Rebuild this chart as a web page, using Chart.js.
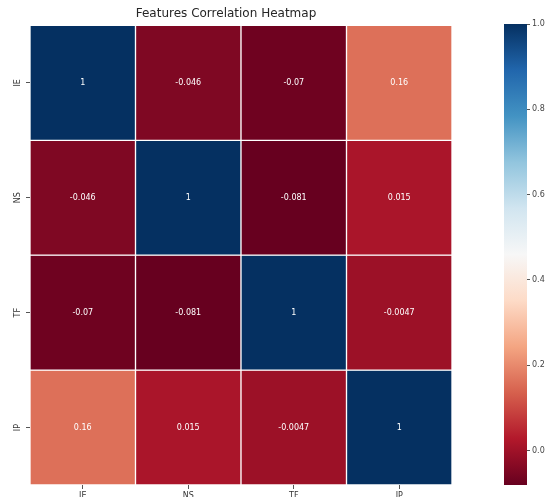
<!DOCTYPE html>
<html>
<head>
<meta charset="utf-8">
<script src="https://cdn.jsdelivr.net/npm/chart.js@4.4.1/dist/chart.umd.min.js"></script>
<style>
  html, body { margin: 0; padding: 0; background: #fff; }
  #wrap { position: relative; width: 550px; height: 497px; overflow: hidden; }
  #heat { position: absolute; left: 0; top: 0; width: 482px; height: 497px; }
  #cbar { position: absolute; left: 482px; top: 0; width: 68px; height: 497px; }
</style>
</head>
<body>
<div id="wrap">
  <div id="heat"><canvas id="heatCanvas"></canvas></div>
  <div id="cbar"><canvas id="cbarCanvas"></canvas></div>
</div>
<script>
const features = ['IE', 'NS', 'TF', 'IP'];
const rowIE = [1, -0.046, -0.07, 0.16];
const rowNS = [-0.046, 1, -0.081, 0.015];
const rowTF = [-0.07, -0.081, 1, -0.0047];
const rowIP = [0.16, 0.015, -0.0047, 1];
const rows = [rowIE, rowNS, rowTF, rowIP];
const colorbarTicks = [0.0, 0.2, 0.4, 0.6, 0.8, 1.0];
const vmin = -0.081;
const vmax = 1;

// matplotlib RdBu, 11 stops
const rdbu = ['#67001f', '#b2182b', '#d6604d', '#f4a582', '#fddbc7', '#f7f7f7',
              '#d1e5f0', '#92c5de', '#4393c3', '#2166ac', '#053061'];

function hexRgb(h) {
    return [parseInt(h.slice(1, 3), 16), parseInt(h.slice(3, 5), 16), parseInt(h.slice(5, 7), 16)];
}

function cellColor(v) {
    let t = (v - vmin) / (vmax - vmin);
    t = Math.max(0, Math.min(1, t));
    const pos = t * (rdbu.length - 1);
    const i = Math.min(Math.floor(pos), rdbu.length - 2);
    const f = pos - i;
    const a = hexRgb(rdbu[i]), b = hexRgb(rdbu[i + 1]);
    const c = a.map((x, k) => Math.round(x + (b[k] - x) * f));
    return 'rgb(' + c.join(',') + ')';
}

function fmt(v) {
    return String(Number(v.toPrecision(2)));
}

const tickFont = { family: 'DejaVu Sans', size: 8 };

const cellLabels = {
    id: 'cellLabels',
    afterDatasetsDraw(chart) {
        const ctx = chart.ctx;
        ctx.save();
        ctx.font = '8px "DejaVu Sans"';
        ctx.fillStyle = '#ffffff';
        ctx.textAlign = 'center';
        ctx.textBaseline = 'middle';
        chart.data.datasets.forEach((ds, r) => {
            chart.getDatasetMeta(r).data.forEach((bar, c) => {
                ctx.fillText(fmt(rows[r][c]), bar.x, (bar.y + bar.base) / 2);
            });
        });
        ctx.restore();
    }
};

new Chart('heatCanvas', {
    type: 'bar',
    data: {
        labels: features,
        datasets: rows.map((row, r) => ({
            label: features[r],
            data: row.map(() => [r, r + 1]),
            backgroundColor: row.map(v => cellColor(v)),
            borderColor: '#ffffff',
            borderWidth: 1,
            borderSkipped: false,
            barPercentage: 1,
            categoryPercentage: 1
        }))
    },
    options: {
        responsive: true,
        maintainAspectRatio: false,
        animation: false,
        layout: { padding: { left: 0, right: 30, top: 0, bottom: 0 } },
        plugins: {
            legend: { display: false },
            tooltip: { enabled: false },
            title: {
                display: true,
                text: 'Features Correlation Heatmap',
                color: '#262626',
                font: { family: 'DejaVu Sans', size: 12, weight: 'normal' },
                padding: { top: 7, bottom: 4 }
            }
        },
        scales: {
            x: {
                stacked: true,
                grid: { drawOnChartArea: false, drawTicks: true, tickLength: 4, offset: false, color: '#555' },
                border: { display: false },
                ticks: { color: '#333', font: tickFont, padding: 2, maxRotation: 0 },
                afterFit: s => { s.height = 12; }
            },
            y: {
                min: 0,
                max: 4,
                reverse: true,
                afterBuildTicks: s => { s.ticks = features.map((f, i) => ({ value: i + 0.5 })); },
                grid: { drawOnChartArea: false, drawTicks: true, tickLength: 4, color: '#555' },
                border: { display: false },
                ticks: {
                    color: '#333', font: tickFont, padding: 3,
                    minRotation: 90, maxRotation: 90, crossAlign: 'center',
                    callback: v => features[Math.floor(v)]
                },
                afterFit: s => { s.width = 30; }
            }
        }
    },
    plugins: [cellLabels]
});

function barGradient(chart) {
    const area = chart.chartArea;
    if (!area) return rdbu[0];
    const y = chart.scales.y;
    const g = chart.ctx.createLinearGradient(0, y.getPixelForValue(vmin), 0, y.getPixelForValue(vmax));
    rdbu.forEach((c, i) => g.addColorStop(i / (rdbu.length - 1), c));
    return g;
}

new Chart('cbarCanvas', {
    type: 'bar',
    data: {
        labels: [''],
        datasets: [{
            data: [[vmin, vmax]],
            backgroundColor: ctx => barGradient(ctx.chart),
            borderWidth: 0,
            barPercentage: 1,
            categoryPercentage: 1
        }]
    },
    options: {
        responsive: true,
        maintainAspectRatio: false,
        animation: false,
        layout: { padding: { left: 22, right: 0, top: 24, bottom: 12 } },
        plugins: { legend: { display: false }, tooltip: { enabled: false } },
        scales: {
            x: { display: false },
            y: {
                position: 'right',
                min: vmin,
                max: vmax,
                afterBuildTicks: s => { s.ticks = colorbarTicks.map(v => ({ value: v })); },
                grid: { drawOnChartArea: false, drawTicks: true, tickLength: 3, color: '#555' },
                border: { display: false },
                ticks: { color: '#444', font: tickFont, padding: 2, callback: v => v.toFixed(1) },
                afterFit: s => { s.width = 23; }
            }
        }
    }
});
</script>
</body>
</html>
